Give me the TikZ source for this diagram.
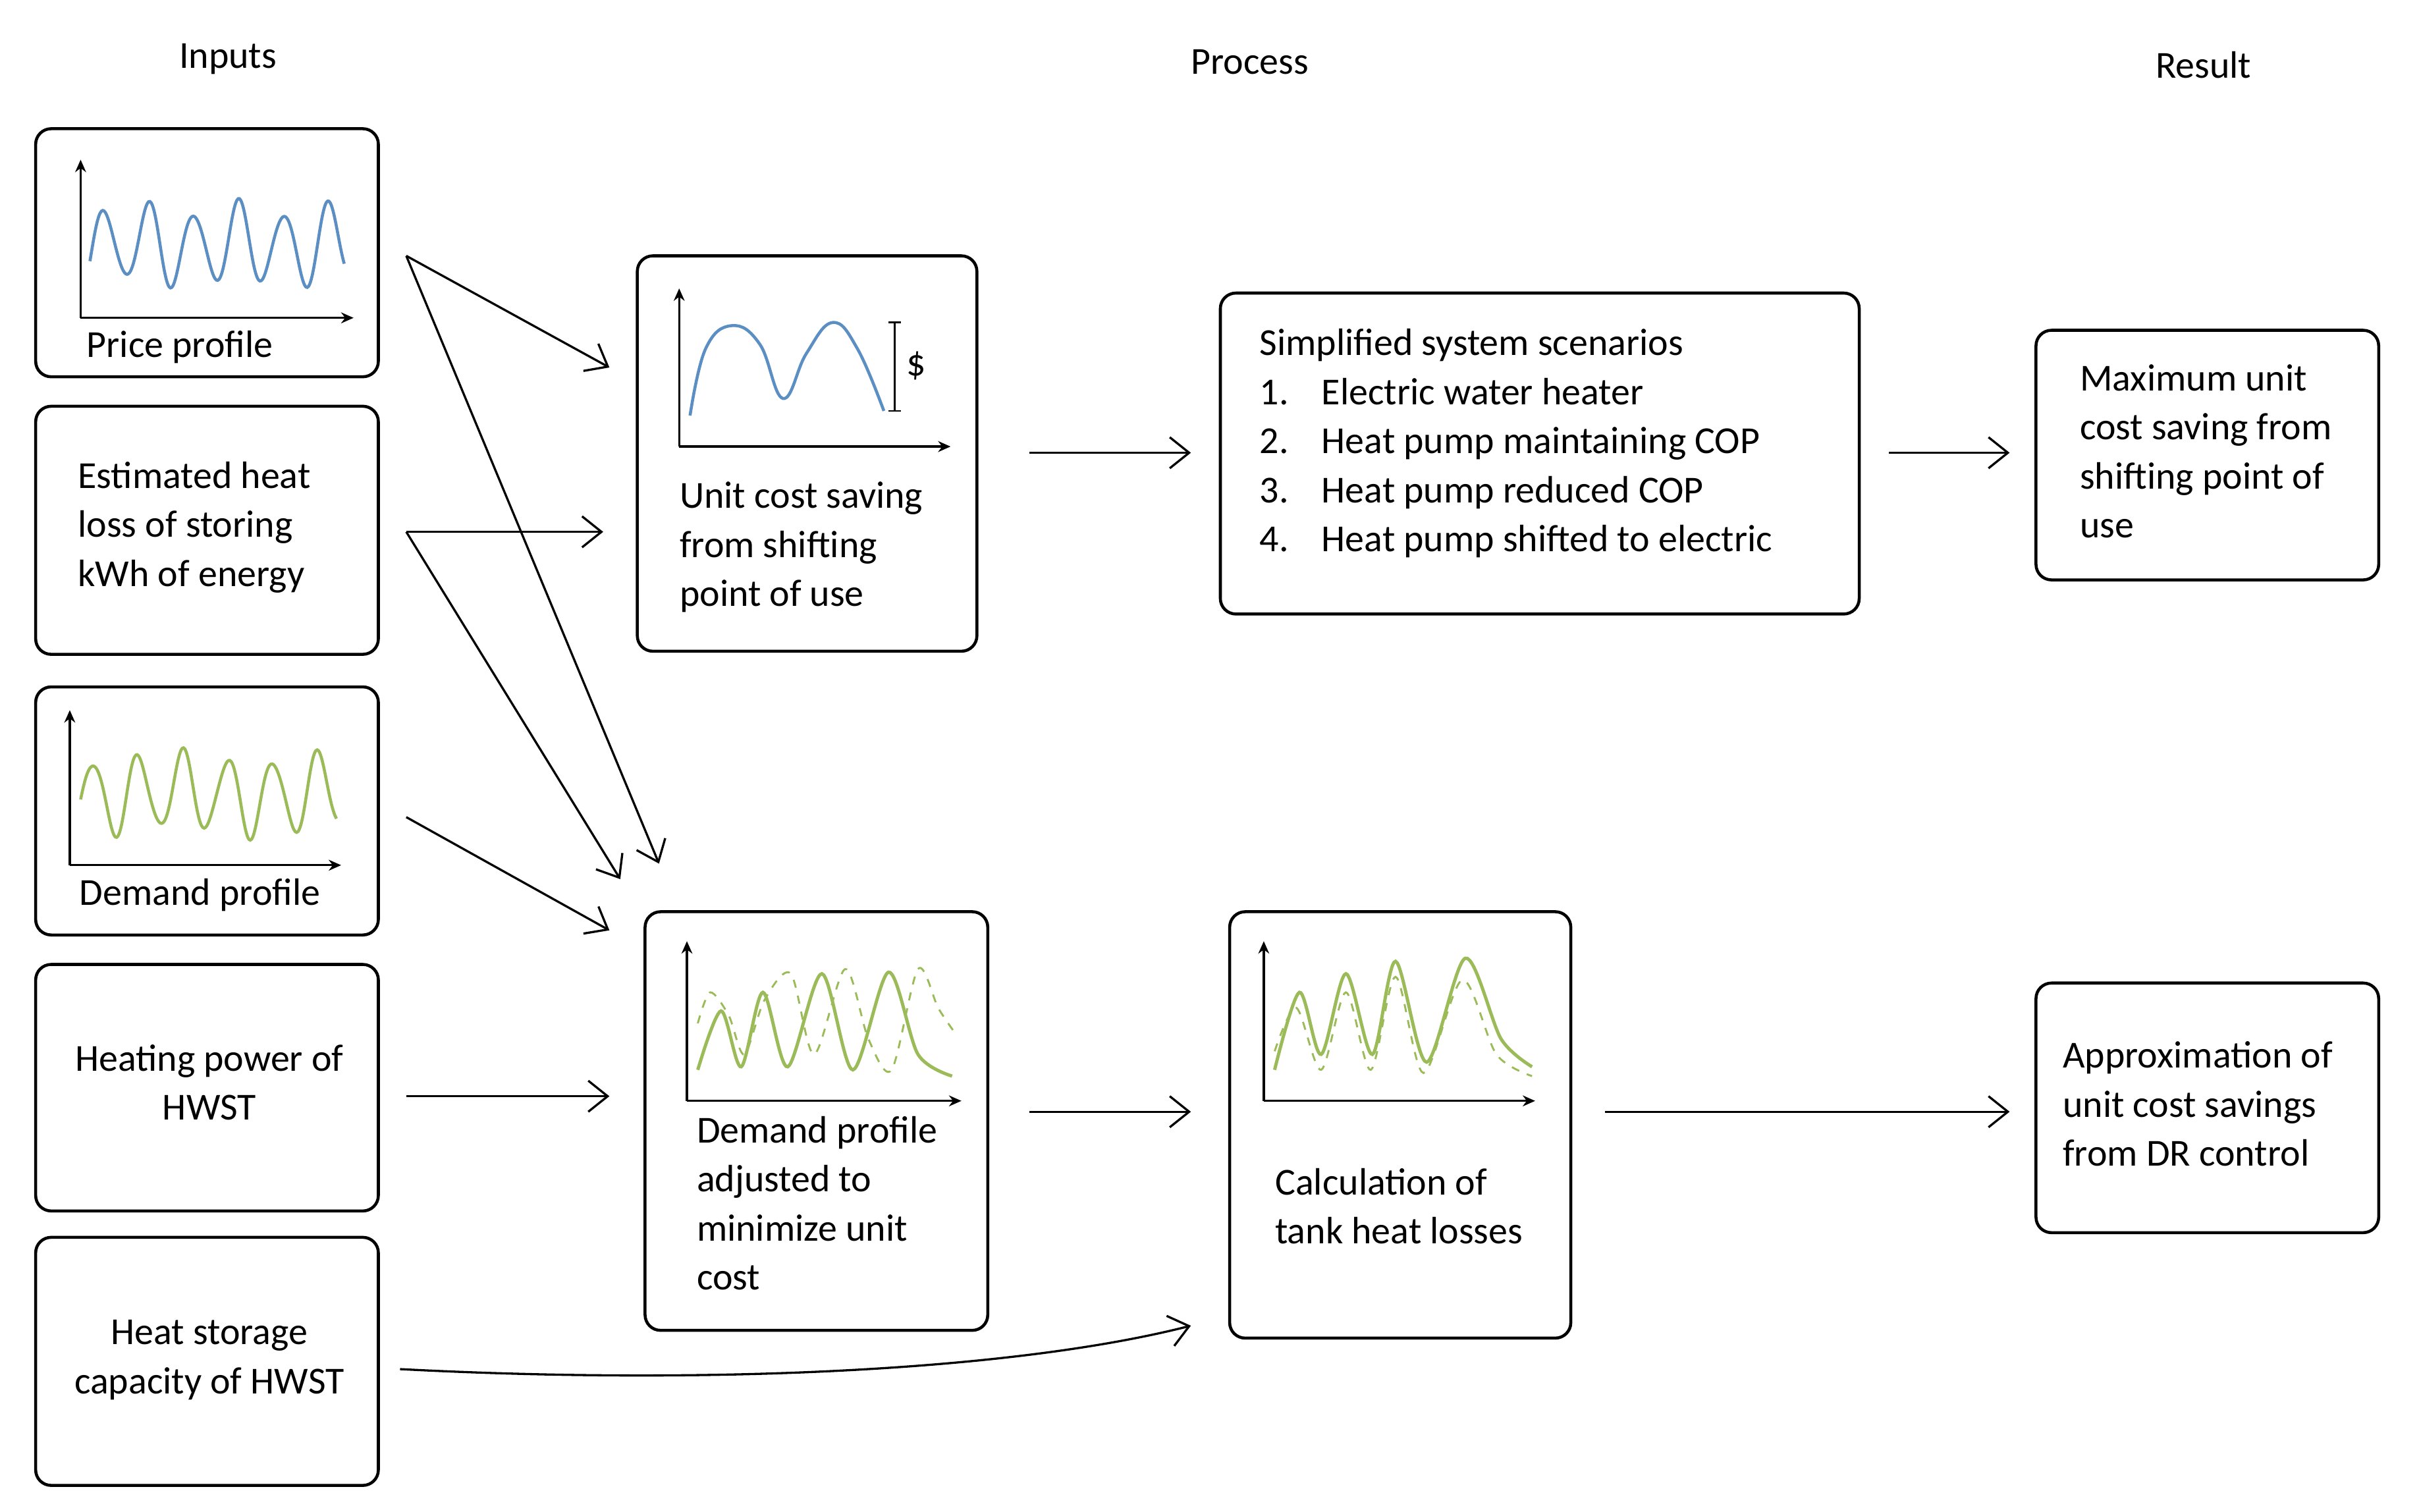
\documentclass[tikz,border=0pt]{standalone}
\usepackage{fontspec}
\setmainfont{Carlito}
\usetikzlibrary{arrows.meta}
\definecolor{cblue}{HTML}{5B8EC2}
\definecolor{cgreen}{HTML}{9BBB59}
\begin{document}
\begin{tikzpicture}[x=0.2mm,y=-0.2mm,
  box/.style={draw,line width=1.1pt,rounded corners=2mm,inner sep=0pt},
  txt/.style={inner sep=0pt,font=\fontsize{14}{18}\selectfont},
  arr/.style={line width=0.8pt,-{Straight Barb[length=2.5mm,width=4mm]}},
  ax/.style={line width=0.8pt,-{Stealth[length=1.6mm,width=1.4mm]}}]
\useasboundingbox[fill=white] (0,0) rectangle (1560,975);
\newcommand{\bx}[5]{\node[box,minimum width={(#4-#2)*0.2mm},minimum height={(#5-#3)*0.2mm}] (#1) at ({(#2+#4)/2},{(#3+#5)/2}) {};}
\bx{price}{23}{83}{244}{243}
\bx{loss}{23}{262}{244}{422}
\bx{demand}{23}{443}{244}{603}
\bx{power}{23}{622}{244}{781}
\bx{storage}{23}{798}{244}{958}
\bx{unit}{411}{165}{630}{420}
\bx{adj}{416}{588}{637}{858}
\bx{scen}{787}{189}{1199}{396}
\bx{calc}{793}{588}{1013}{863}
\bx{max}{1313}{213}{1534}{374}
\bx{approx}{1313}{634}{1534}{795}
% headers
\node[txt] (h1) at (147,38) {Inputs};
\node[txt] (h2) at (806,40) {Process};
\node[txt] (h3) at (1421,42) {Result};
% texts
\node[txt] (t1) at (116,224) {Price profile};
\node[txt,align=left,anchor=west] (t2) at (50,340) {Estimated heat\\loss of storing\\kWh of energy};
\node[txt] (t3) at (129,577) {Demand profile};
\node[txt,align=center] (t4) at (135,698) {Heating power of\\HWST};
\node[txt,align=center] (t5) at (135,877) {Heat storage\\capacity of HWST};
\node[txt,align=left,anchor=west] (t6) at (438,353) {Unit cost saving\\from shifting\\point of use};
\node[txt,align=left,anchor=west] (t7) at (449,776) {Demand profile\\adjusted to\\minimize unit\\cost};
\node[txt,align=left,anchor=west] (t8) at (812,286) {Simplified system scenarios\\
\makebox[8mm][l]{1.}Electric water heater\\
\makebox[8mm][l]{2.}Heat pump maintaining COP\\
\makebox[8mm][l]{3.}Heat pump reduced COP\\
\makebox[8mm][l]{4.}Heat pump shifted to electric};
\node[txt,align=left,anchor=west] (t9) at (822,778) {Calculation of\\tank heat losses};
\node[txt,align=left,anchor=west] (t10) at (1341,291) {Maximum unit\\cost saving from\\shifting point of\\use};
\node[txt,align=left,anchor=west] (t11) at (1330,712) {Approximation of\\unit cost savings\\from DR control};
% charts
\draw[ax] (52,205) -- (52,103);
\draw[ax] (52,205) -- (228,205);
\draw[cblue,line width=1.1pt] plot[domain=58:222,samples=200,smooth] (\x,{158-30*(0.8+0.2*cos(\x*7))*cos((\x-67)/29*360)});
\draw[ax] (45,558) -- (45,458);
\draw[ax] (45,558) -- (220,558);
\draw[cgreen,line width=1.1pt] plot[domain=52:217,samples=200,smooth] (\x,{512-30*(0.8+0.2*cos(\x*9))*cos((\x-60)/29*360)});
\draw[ax] (438,288) -- (438,186);
\draw[ax] (438,288) -- (613,288);
\draw[cblue,line width=1.1pt] plot[smooth,tension=0.7] coordinates {(445,268) (455,225) (472,210) (490,222) (505,257) (520,228) (537,208) (553,225) (570,265)};
\draw[line width=0.7pt] (577,208) -- (577,265) (573,208) -- (581,208) (573,265) -- (581,265);
\node[txt] (dol) at (591,236) {\$};
\draw[ax] (443,710) -- (443,607);
\draw[ax] (443,710) -- (620,710);
\draw[cgreen,line width=0.7pt,dashed] plot[smooth] coordinates {(450,660) (458,640) (470,655) (480,680) (493,645) (510,628) (525,680) (545,625) (560,670) (575,690) (592,625) (605,650) (615,665)};
\draw[cgreen,line width=1.2pt] plot[smooth] coordinates {(450,690) (465,652) (478,688) (492,640) (508,688) (530,628) (550,690) (573,627) (592,680) (614,694)};
\draw[ax] (815,710) -- (815,607);
\draw[ax] (815,710) -- (990,710);
\draw[cgreen,line width=0.7pt,dashed] plot[smooth] coordinates {(822,678) (836,650) (852,690) (868,640) (884,690) (900,630) (918,692) (943,632) (965,680) (988,694)};
\draw[cgreen,line width=1.2pt] plot[smooth] coordinates {(822,690) (838,640) (852,680) (868,628) (885,680) (900,620) (920,685) (945,618) (968,670) (988,688)};
% arrow coordinates
\coordinate (a1) at (262,165); \coordinate (b1) at (393,237); \coordinate (b2) at (425,557);
\coordinate (a2) at (262,343); \coordinate (b3) at (389,343); \coordinate (b4) at (400,567);
\coordinate (a3) at (262,527); \coordinate (b5) at (393,600);
\coordinate (a4) at (262,707); \coordinate (b6) at (393,707);
\coordinate (a5) at (664,292); \coordinate (b7) at (768,292);
\coordinate (a6) at (1218,292); \coordinate (b8) at (1296,292);
\coordinate (a7) at (664,717); \coordinate (b9) at (768,717);
\coordinate (a8) at (1035,717); \coordinate (b10) at (1296,717);
\coordinate (a9) at (258,883); \coordinate (b11) at (768,855);
\draw[arr] (a1) -- (b1);
\draw[arr] (a1) -- (b2);
\draw[arr] (a2) -- (b3);
\draw[arr] (a2) -- (b4);
\draw[arr] (a3) -- (b5);
\draw[arr] (a4) -- (b6);
\draw[arr] (a5) -- (b7);
\draw[arr] (a6) -- (b8);
\draw[arr] (a7) -- (b9);
\draw[arr] (a8) -- (b10);
\draw[arr] (a9) .. controls (450,893) and (650,885) .. (b11);
\end{tikzpicture}
\end{document}
